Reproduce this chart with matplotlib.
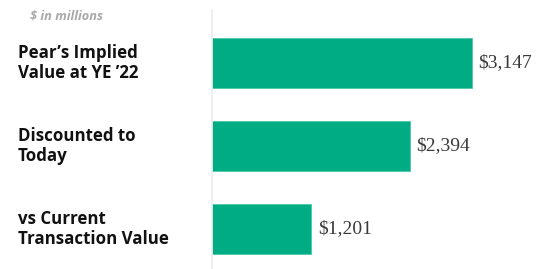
import matplotlib
matplotlib.use("Agg")
import matplotlib.pyplot as plt
import matplotlib.transforms as mtransforms

# data
labels = ["Pear\u2019s Implied\nValue at YE \u201922", "Discounted to\nToday", "vs Current\nTransaction Value"]
values = [3147, 2394, 1201]
value_text = ["$3,147", "$2,394", "$1,201"]

green = "#00AC84"

fig = plt.figure(figsize=(5.42, 2.69), dpi=100)
ax = fig.add_axes([212 / 542, 0, 330 / 542, 259 / 269])

ypos = list(range(len(values)))
ax.barh(ypos, values, height=0.6, color=green, edgecolor="#4cc9a8", linewidth=0.6)
ax.set_xlim(0, 3995)
ax.set_ylim(2.482, -0.639)

for s in ["top", "right", "bottom"]:
    ax.spines[s].set_visible(False)
ax.spines["left"].set_color("#ececec")
ax.spines["left"].set_linewidth(1.2)
ax.set_xticks([])
ax.set_yticks([])

# value labels
for y, v, t in zip(ypos, values, value_text):
    ax.text(v + 80, y, t, va="center", ha="left", fontsize=14,
            family="Liberation Serif", color="#3a3a3a")

# category labels
trans = mtransforms.blended_transform_factory(fig.transFigure, ax.transData)
for y, lab in zip(ypos, labels):
    ax.text(18 / 542, y, lab, transform=trans, va="center", ha="left",
            fontsize=12.2, fontweight="bold", family="Open Sans",
            color="#111111", linespacing=1.15)

fig.text(30 / 542, 1 - 16 / 269, "$ in millions", fontsize=9.2, style="italic",
         fontweight="bold", color="#a8a8a8", family="Open Sans", va="center")

fig.savefig("out.png", dpi=100)
